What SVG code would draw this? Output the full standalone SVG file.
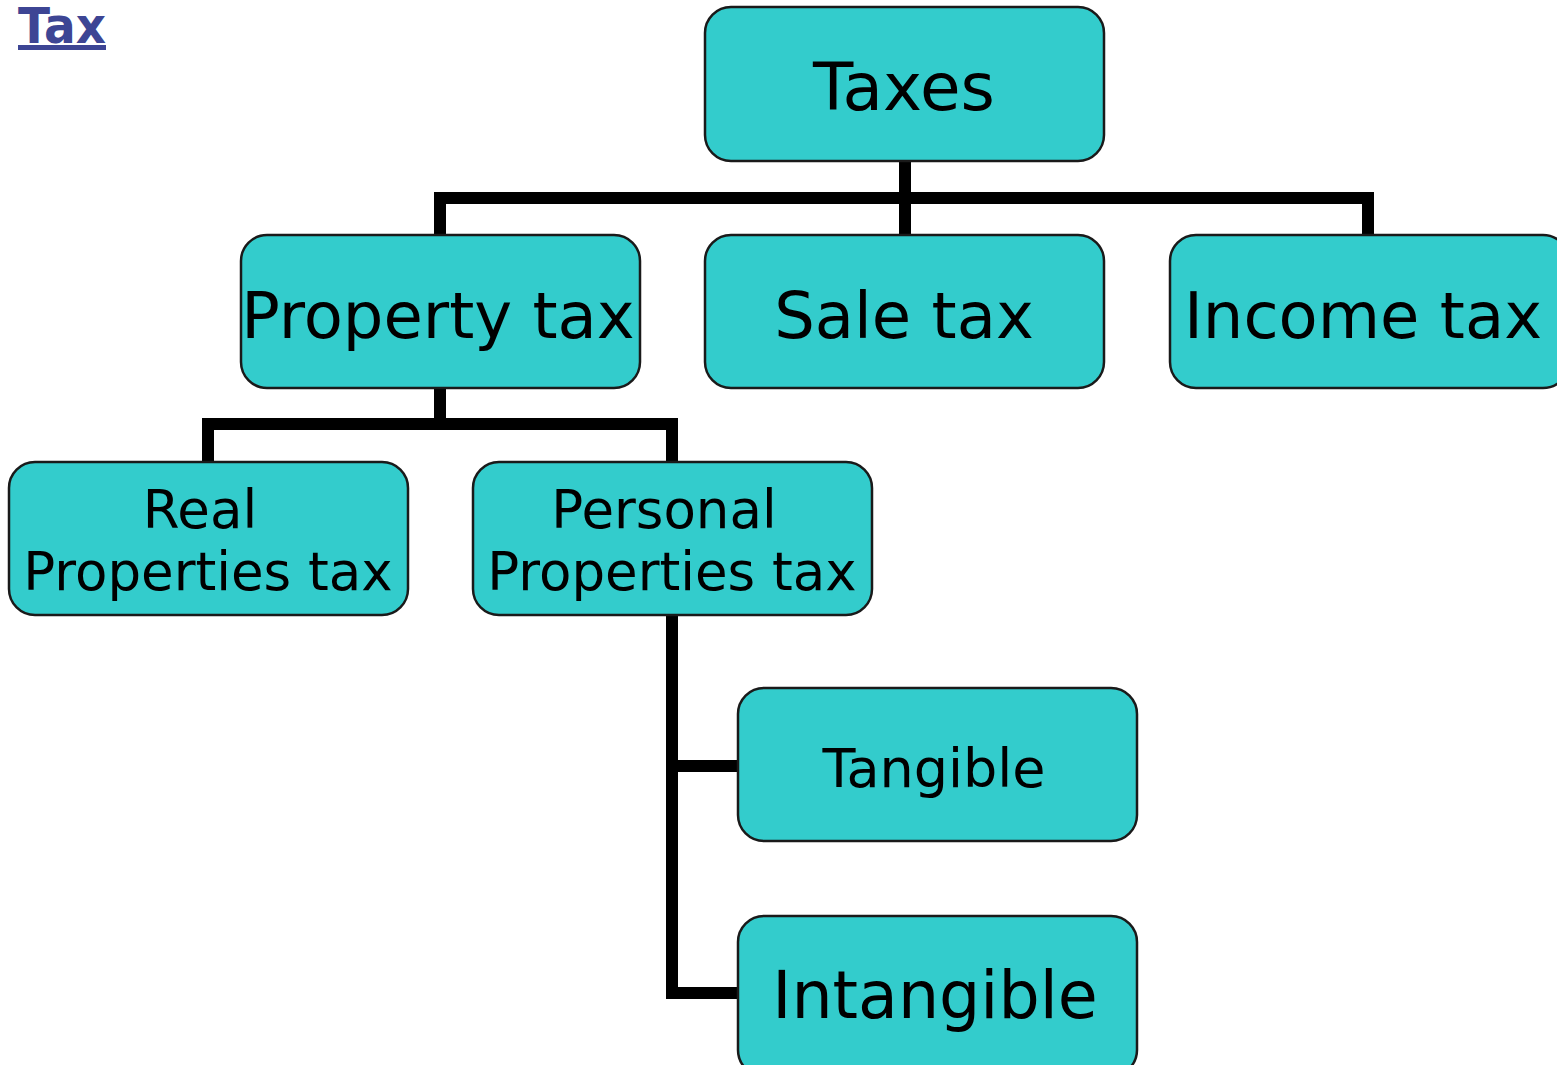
<svg xmlns="http://www.w3.org/2000/svg" width="1557" height="1065" viewBox="0 0 1557 1065">
<style>
.box{fill:#33CCCC;stroke:#1a1a1a;stroke-width:2.5}
.lbl{font-family:"DejaVu Sans",Verdana,sans-serif;fill:#000;text-anchor:middle}
.conn{fill:none;stroke:#000;stroke-width:12;stroke-linejoin:miter;stroke-linecap:butt}
</style>
<rect width="1557" height="1065" fill="#fff"/>
<g id="title">
<text x="18" y="43" font-family="'DejaVu Sans',Verdana,sans-serif" font-weight="bold" font-size="49" fill="#3d4594" textLength="88" lengthAdjust="spacingAndGlyphs">Tax</text>
<rect x="18" y="45" width="88" height="5" fill="#3d4594"/>
</g>
<g id="connectors">
<path class="conn" d="M905 160 V236"/>
<path class="conn" d="M440 236 V198 H1368 V236"/>
<path class="conn" d="M440 387 V424"/>
<path class="conn" d="M208 463 V424 H672 V463"/>
<path class="conn" d="M672 614 V993 H740"/>
<path class="conn" d="M672 766 H740"/>
</g>
<g id="taxes">
<rect class="box" x="705" y="7" width="399" height="154" rx="26"/>
<text class="lbl" x="904" y="110" font-size="66">Taxes</text>
</g>
<g id="property-tax">
<rect class="box" x="241" y="235" width="399" height="153" rx="26"/>
<text class="lbl" x="438" y="338" font-size="64">Property tax</text>
</g>
<g id="sale-tax">
<rect class="box" x="705" y="235" width="399" height="153" rx="26"/>
<text class="lbl" x="904" y="338" font-size="64">Sale tax</text>
</g>
<g id="income-tax">
<rect class="box" x="1170" y="235" width="399" height="153" rx="26"/>
<text class="lbl" x="1363" y="338" font-size="64">Income tax</text>
</g>
<g id="real-properties-tax">
<rect class="box" x="9" y="462" width="399" height="153" rx="26"/>
<text class="lbl" font-size="53"><tspan x="200" y="528">Real</tspan><tspan x="208" y="590">Properties tax</tspan></text>
</g>
<g id="personal-properties-tax">
<rect class="box" x="473" y="462" width="399" height="153" rx="26"/>
<text class="lbl" font-size="53"><tspan x="664" y="528">Personal</tspan><tspan x="672" y="590">Properties tax</tspan></text>
</g>
<g id="tangible">
<rect class="box" x="738" y="688" width="399" height="153" rx="26"/>
<text class="lbl" x="934" y="787" font-size="54">Tangible</text>
</g>
<g id="intangible">
<rect class="box" x="738" y="916" width="399" height="160" rx="26"/>
<text class="lbl" x="935" y="1018" font-size="65">Intangible</text>
</g>
</svg>
